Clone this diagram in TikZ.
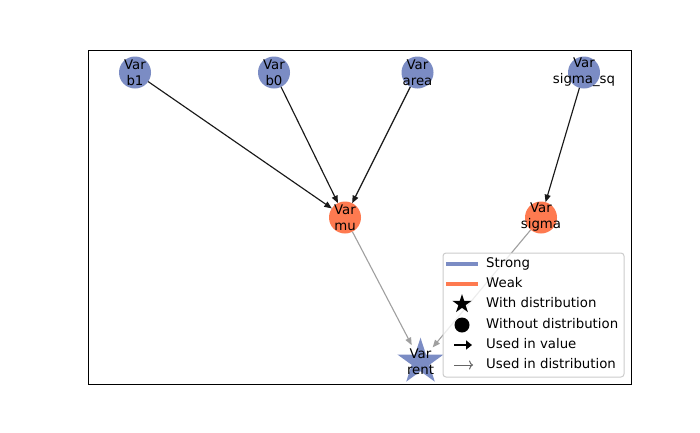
\documentclass[tikz,border=0pt]{standalone}
\usepackage{fontspec}
\setmainfont{DejaVu Sans}
\usetikzlibrary{arrows.meta,shapes.geometric}
\definecolor{strong}{HTML}{7B8CC4}
\definecolor{weak}{HTML}{FE7A50}
\definecolor{edgegray}{HTML}{A0A0A0}
\definecolor{legframe}{HTML}{CCCCCC}
\tikzset{
  var/.style={circle, fill=#1, minimum size=32pt, inner sep=0pt, outer sep=0pt},
  lbl/.style={align=center, inner sep=0pt, font=\fontsize{13.3}{16}\selectfont},
  valedge/.style={draw=black!90, line width=1.15pt, -{Triangle[length=7.5pt,width=6pt]}},
  distedge/.style={draw=edgegray, line width=1.1pt, -{Triangle[length=7.5pt,width=6pt]}},
  legtext/.style={anchor=west, inner sep=0pt, font=\fontsize{13.3}{16}\selectfont, text height=9.5pt, text depth=2.5pt},
}
\begin{document}
\begin{tikzpicture}[x=1pt,y=-1pt]
\useasboundingbox (0,0) rectangle (700,432);
\fill[white] (0,0) rectangle (700,432);
% nodes
\node[var=strong] (b1) at (135,72.5) {};
\node[var=strong] (b0) at (274,72.5) {};
\node[var=strong] (area) at (417.5,72.5) {};
\node[var=strong] (sigsq) at (584,72.5) {};
\node[var=weak] (mu) at (345,217.5) {};
\node[var=weak] (sigma) at (541,217.5) {};
\node[star, star points=5, star point ratio=2.618, minimum size=48.6pt, inner sep=0pt, fill=strong] (rentstar) at (420.5,362) {};
\node[circle, minimum size=38pt, inner sep=0pt, outer sep=0pt] (rent) at (420.5,362) {};
% edges
\draw[valedge] (b1) -- (mu);
\draw[valedge] (b0) -- (mu);
\draw[valedge] (area) -- (mu);
\draw[valedge] (sigsq) -- (sigma);
\draw[distedge] (mu) -- (rent);
\draw[distedge] (sigma) -- (rent);
% labels
\node[lbl] (b1t) at (b1) {Var\\b1};
\node[lbl] (b0t) at (b0) {Var\\b0};
\node[lbl] (areat) at (area) {Var\\area};
\node[lbl] (sigsqt) at (sigsq) {Var\\sigma\_sq};
\node[lbl] (mut) at (mu) {Var\\mu};
\node[lbl] (sigmat) at (sigma) {Var\\sigma};
\node[lbl] (rentt) at (rent) {Var\\rent};
% axes frame
\draw[line width=1pt] (88,50) rectangle (631,384);
% legend
\filldraw[draw=legframe, fill=white, fill opacity=0.8, line width=1pt, rounded corners=3pt] (443,253) rectangle (624,377);
\draw[strong, line width=4pt] (446,264) -- (478,264);
\draw[weak, line width=4pt] (446,284) -- (478,284);
\node[star, star points=5, star point ratio=2.618, minimum size=20pt, inner sep=0pt, fill=black] (legstar) at (462,304) {};
\node[circle, minimum size=15pt, inner sep=0pt, fill=black] (legcirc) at (462,325) {};
\coordinate (la1) at (454,345);
\coordinate (la2) at (472,345);
\draw[line width=2.6pt, -{Triangle[length=6pt,width=9pt]}] (la1) -- (la2);
\coordinate (lb1) at (454,365);
\coordinate (lb2) at (473,365);
\draw[black!60, line width=1pt, -{To[length=4pt,width=9pt]}] (lb1) -- (lb2);
\node[legtext] (t1) at (486,264) {Strong};
\node[legtext] (t2) at (486,284) {Weak};
\node[legtext] (t3) at (486,304) {With distribution};
\node[legtext] (t4) at (486,325) {Without distribution};
\node[legtext] (t5) at (486,345) {Used in value};
\node[legtext] (t6) at (486,365) {Used in distribution};
\end{tikzpicture}
\end{document}
